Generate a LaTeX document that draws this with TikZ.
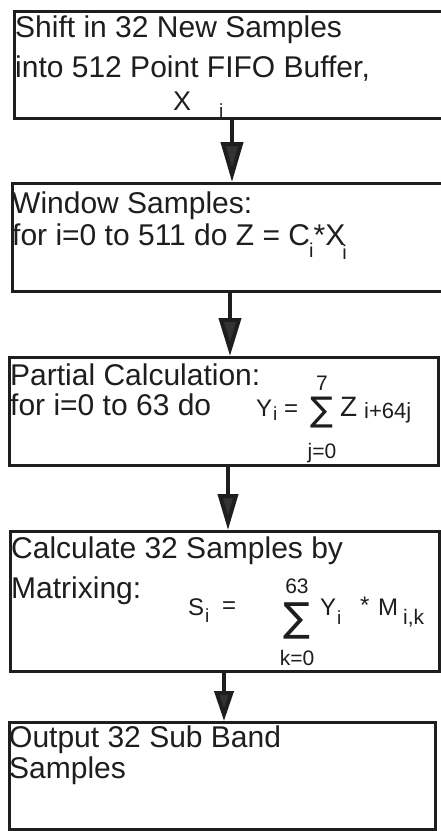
\documentclass[tikz,border=0pt]{standalone}
\usepackage{fontspec}
\setmainfont{Liberation Sans}
\newfontfamily\symfont{DejaVu Sans}
\usetikzlibrary{arrows.meta}
\definecolor{ink}{HTML}{1E1E1E}
\definecolor{headfill}{HTML}{333333}
\tikzset{
  box/.style={draw=ink, line width=3pt, rectangle, anchor=north west, inner sep=0pt},
  txt/.style={anchor=base west, inner sep=0pt, text=ink, font=\fontsize{30}{36}\selectfont},
  frm/.style={anchor=base west, inner sep=0pt, text=ink, font=\fontsize{24}{28}\selectfont},
  sml/.style={anchor=base west, inner sep=0pt, text=ink, font=\fontsize{19}{22}\selectfont},
  lim/.style={anchor=base, inner sep=0pt, text=ink, font=\fontsize{21}{24}\selectfont},
  sig/.style={anchor=base, inner sep=0pt, text=ink, font=\symfont\fontsize{34}{40}\selectfont},
  flow/.style={draw=ink, line width=4pt}
}
\begin{document}
\begin{tikzpicture}[x=1pt,y=-1pt]
\fill[white] (0,0) rectangle (441,831);
\clip (0,0) rectangle (441,831);
% boxes
\node[box, minimum width=437pt, minimum height=107pt] (b1) at (13,10) {};
\node[box, minimum width=437pt, minimum height=108pt] (b2) at (11,182) {};
\node[box, minimum width=429pt, minimum height=108pt] (b3) at (8,356) {};
\node[box, minimum width=429pt, minimum height=140pt] (b4) at (9,530) {};
\node[box, minimum width=426pt, minimum height=107pt] (b5) at (8,721) {};
% arrow x positions
\coordinate (c1) at (232,0);
\coordinate (c2) at (230,0);
\coordinate (c3) at (228,0);
\coordinate (c4) at (224,0);
\draw[flow, -{Triangle[width=22pt,length=40pt,fill=headfill]}] (b1.south -| c1) -- (b2.north -| c1);
\draw[flow, -{Triangle[width=22pt,length=38pt,fill=headfill]}] (b2.south -| c2) -- (b3.north -| c2);
\draw[flow, -{Triangle[width=20pt,length=36pt,fill=headfill]}] (b3.south -| c3) -- (b4.north -| c3);
\draw[flow, -{Triangle[width=19pt,length=30pt,fill=headfill]}] (b4.south -| c4) -- (b5.north -| c4);
% box 1 text
\node[txt] (t1a) at (15,37) {Shift in 32 New Samples};
\node[txt] (t1b) at (15,77) {into 512 Point FIFO Buffer,};
\node[txt, font=\fontsize{27}{30}\selectfont] (t1x) at (173,110) {X};
\node[sml] (t1i) at (219,117) {i};
% box 2 text
\node[txt] (t2a) at (12,213) {Window Samples:};
\node[txt] (t2b) at (12,245) {for i=0 to 511 do Z = C\kern-1pt\raisebox{-12pt}{\fontsize{20}{22}\selectfont i}*X\kern-3pt\raisebox{-14pt}{\fontsize{20}{22}\selectfont i}};
% box 3 text
\node[txt] (t3a) at (10,385) {Partial Calculation:};
\node[txt] (t3b) at (10,415) {for i=0 to 63 do};
\node[frm] (y3) at (256,416) {Y};
\node[sml] (y3i) at (273,420) {i};
\node[frm] (e3) at (284,416) {=};
\node[sig] (s3) at (322,421) {∑};
\node[lim] (u3) at (322,390) {7};
\node[lim] (l3) at (322,458) {j=0};
\node[frm, font=\fontsize{28}{30}\selectfont] (z3) at (340,416) {Z};
\node[frm, font=\fontsize{22}{26}\selectfont] (k3) at (364,418) {i+64j};
% box 4 text
\node[txt] (t4a) at (11,558) {Calculate 32 Samples by};
\node[txt] (t4b) at (11,598) {Matrixing:};
\node[frm] (s4) at (188,615) {S};
\node[sml] (s4i) at (205,622) {i};
\node[frm] (e4) at (222,613) {=};
\node[sig, font=\symfont\fontsize{40}{46}\selectfont] (g4) at (297,631) {∑};
\node[lim] (u4) at (297,593) {63};
\node[lim] (l4) at (297,665) {k=0};
\node[frm] (y4) at (320,615) {Y};
\node[sml] (y4i) at (337,624) {i};
\node[frm] (m4s) at (360,613) {*};
\node[frm] (m4) at (378,615) {M};
\node[frm, font=\fontsize{21}{24}\selectfont] (m4i) at (403,624) {i,k};
% box 5 text
\node[txt] (t5a) at (9,747) {Output 32 Sub Band};
\node[txt] (t5b) at (9,778) {Samples};
\end{tikzpicture}
\end{document}
